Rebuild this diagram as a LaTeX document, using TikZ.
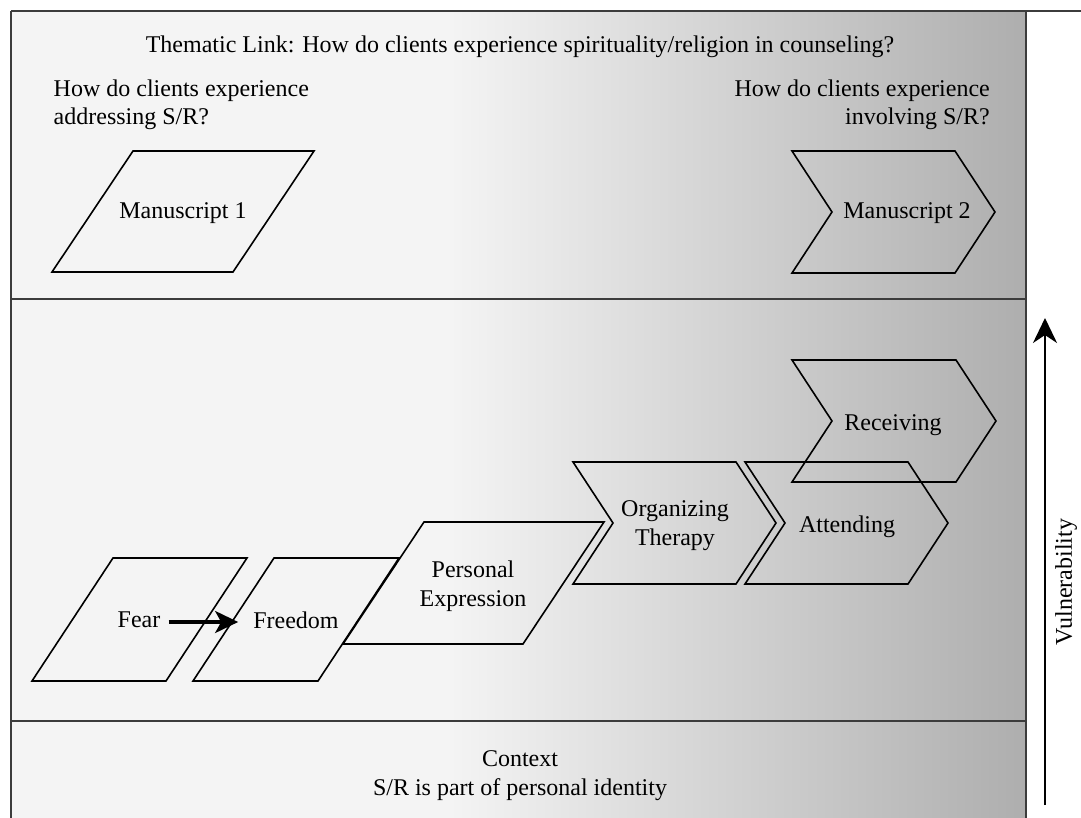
\documentclass[tikz,border=0pt]{standalone}
\usepackage{fontspec}
\setmainfont{Liberation Serif}
\usetikzlibrary{arrows.meta}
\definecolor{panelL}{HTML}{F4F4F4}
\definecolor{panelR}{HTML}{AEAEAE}
\definecolor{frameC}{HTML}{3C3C3C}
\pgfdeclarehorizontalshading{panelshade}{100bp}{color(0bp)=(panelL); color(25bp)=(panelL); color(46.6bp)=(panelL); color(75bp)=(panelR); color(100bp)=(panelR)}
\tikzset{
  shp/.style={draw=black, line width=1.6pt, line join=miter},
  lbl/.style={font=\fontsize{24}{28.5}\selectfont, align=center, inner sep=0pt},
  frameln/.style={draw=frameC, line width=2pt},
  bigarrow/.style={line width=3.5pt, -{Stealth[length=23pt,width=22pt,inset=6pt]}},
  vularrow/.style={line width=2.5pt, -{Stealth[length=25pt,width=24pt,inset=8pt]}}
}
\begin{document}
\begin{tikzpicture}[x=1pt, y=-1pt]
\useasboundingbox (0,0) rectangle (1081,818);
% background panels
\shade[shading=panelshade] (11,11) rectangle (1026,830);
\draw[frameln] (11,11) -- (1081,11);
\draw[frameln] (11,11) -- (11,830);
\draw[frameln] (1026,11) -- (1026,830);
\draw[frameln] (11,299) -- (1026,299);
\draw[frameln] (11,721) -- (1026,721);

% top panel texts
\node[lbl, anchor=base] (title) at (520,52.5) {Thematic Link: How do clients experience spirituality/religion in counseling?};
\node[lbl, align=left, anchor=north west] (qleft) at (53.5,79.6) {How do clients experience\\addressing S/R?};
\node[lbl, align=right, anchor=north east] (qright) at (990,79.6) {How do clients experience\\involving S/R?};

% manuscripts
\draw[shp] (52,272) -- (233,272) -- (314,151) -- (133,151) -- cycle;
\node[lbl] (m1) at (183,213.5) {Manuscript 1};
\draw[shp] (792,151) -- (955,151) -- (995,212) -- (955,273) -- (792,273) -- (832,212) -- cycle;
\node[lbl] (m2) at (907,213.5) {Manuscript 2};

% middle panel shapes
\draw[shp] (32,681) -- (166,681) -- (247,558) -- (113,558) -- cycle;
\node[lbl] (fear) at (139,620) {Fear};
\draw[shp] (193,681) -- (318,681) -- (399,558) -- (274,558) -- cycle;
\node[lbl] (freedom) at (296,620) {Freedom};
\draw[shp] (343,644) -- (523,644) -- (604,522) -- (424,522) -- cycle;
\node[lbl] (pe) at (473,586) {Personal\\Expression};
\draw[shp] (573,462) -- (736,462) -- (776,523) -- (736,584) -- (573,584) -- (613,523) -- cycle;
\node[lbl] (ot) at (675,525.5) {Organizing\\Therapy};
\draw[shp] (745,462) -- (908,462) -- (948,523) -- (908,584) -- (745,584) -- (785,523) -- cycle;
\node[lbl] (att) at (847,527) {Attending};
\draw[shp] (792,360) -- (956,360) -- (996,421) -- (956,482) -- (792,482) -- (832,421) -- cycle;
\node[lbl] (rec) at (893,425.5) {Receiving};

\draw[bigarrow, shorten <=8pt, shorten >=15pt] ([yshift=-2pt]fear.east) -- ([yshift=-2pt]freedom.west);

% context
\node[lbl, anchor=north] (ctx) at (520,750.8) {Context\\S/R is part of personal identity};

% vulnerability axis
\coordinate (vbot) at (1045,805);
\coordinate (vtop) at (1045,318);
\draw[vularrow] (vbot) -- (vtop);
\node[lbl, rotate=90] (vuln) at (1066,582) {Vulnerability};
\end{tikzpicture}
\end{document}
